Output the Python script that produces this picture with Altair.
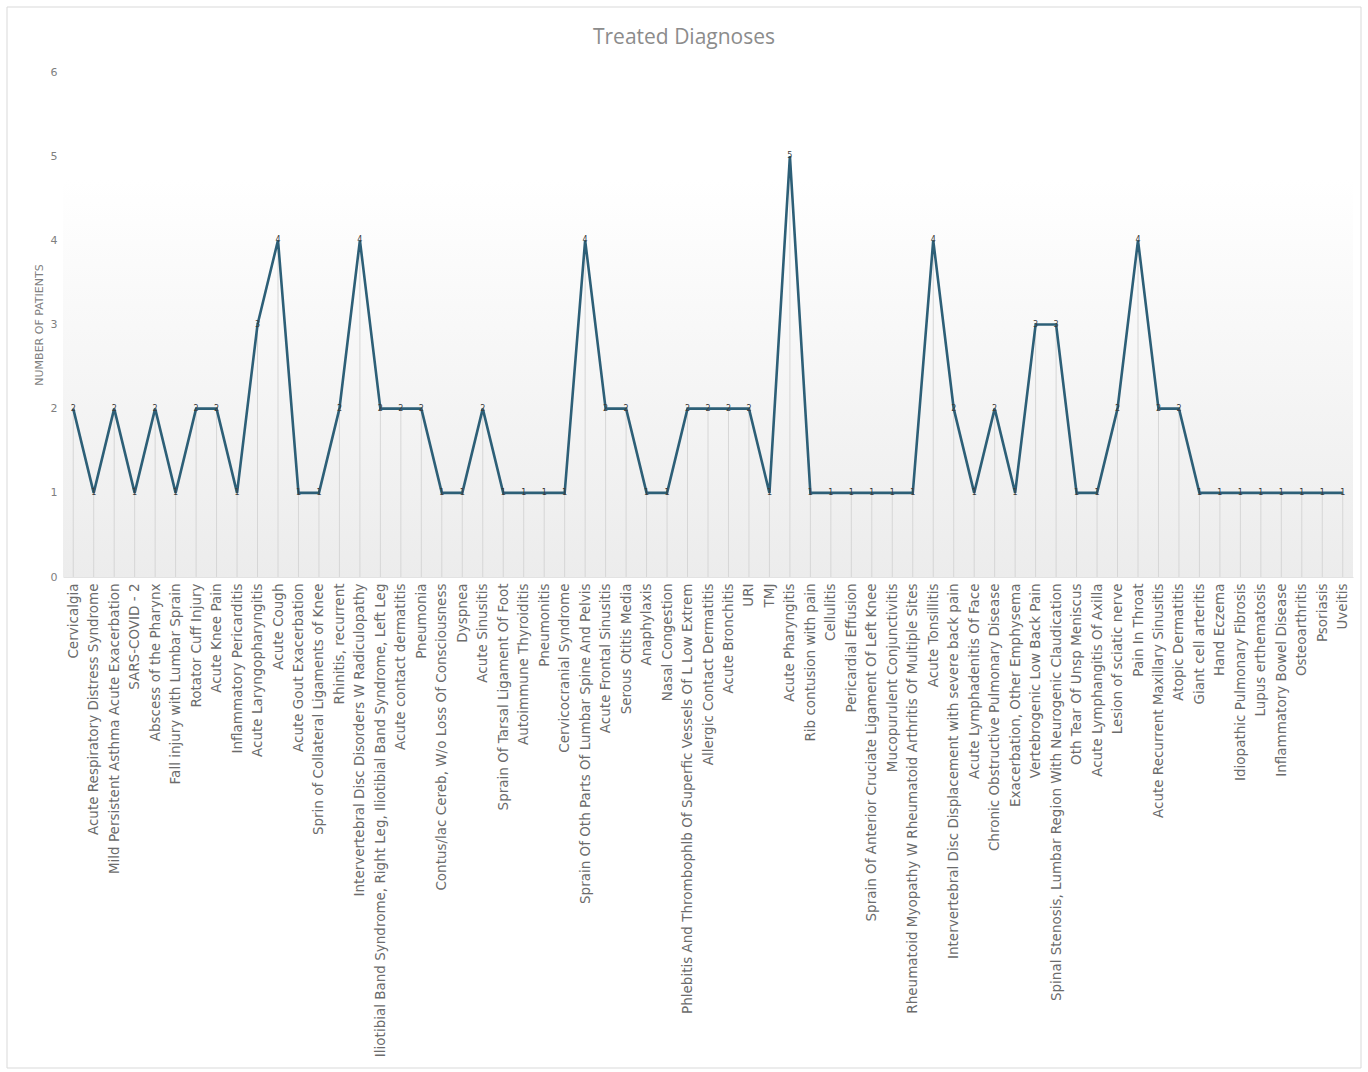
import altair as alt
import pandas as pd

diagnoses = [
    "Cervicalgia",
    "Acute Respiratory Distress Syndrome",
    "Mild Persistent Asthma Acute Exacerbation",
    "SARS-COVID - 2",
    "Abscess of the Pharynx",
    "Fall injury with Lumbar Sprain",
    "Rotator Cuff Injury",
    "Acute Knee Pain",
    "Inflammatory Pericarditis",
    "Acute Laryngopharyngitis",
    "Acute Cough",
    "Acute Gout Exacerbation",
    "Sprin of Collateral Ligaments of Knee",
    "Rhinitis, recurrent",
    "Intervertebral Disc Disorders W Radiculopathy",
    "Iliotibial Band Syndrome, Right Leg, Iliotibial Band Syndrome, Left Leg",
    "Acute contact dermatitis",
    "Pneumonia",
    "Contus/lac Cereb, W/o Loss Of Consciousness",
    "Dyspnea",
    "Acute Sinusitis",
    "Sprain Of Tarsal Ligament Of Foot",
    "Autoimmune Thyroiditis",
    "Pneumonitis",
    "Cervicocranial Syndrome",
    "Sprain Of Oth Parts Of Lumbar Spine And Pelvis",
    "Acute Frontal Sinusitis",
    "Serous Otitis Media",
    "Anaphylaxis",
    "Nasal Congestion",
    "Phlebitis And Thrombophlb Of Superfic Vessels Of L Low Extrem",
    "Allergic Contact Dermatitis",
    "Acute Bronchitis",
    "URI",
    "TMJ",
    "Acute Pharyngitis",
    "Rib contusion with pain",
    "Cellulitis",
    "Pericardial Effusion",
    "Sprain Of Anterior Cruciate Ligament Of Left Knee",
    "Mucopurulent Conjunctivitis",
    "Rheumatoid Myopathy W Rheumatoid Arthritis Of Multiple Sites",
    "Acute Tonsillitis",
    "Intervertebral Disc Displacement with severe back pain",
    "Acute Lymphadenitis Of Face",
    "Chronic Obstructive Pulmonary Disease",
    "Exacerbation, Other Emphysema",
    "Vertebrogenic Low Back Pain",
    "Spinal Stenosis, Lumbar Region With Neurogenic Claudication",
    "Oth Tear Of Unsp Meniscus",
    "Acute Lymphangitis Of Axilla",
    "Lesion of sciatic nerve",
    "Pain In Throat",
    "Acute Recurrent Maxillary Sinusitis",
    "Atopic Dermatitis",
    "Giant cell arteritis",
    "Hand Eczema",
    "Idiopathic Pulmonary Fibrosis",
    "Lupus erthematosis",
    "Inflammatory Bowel Disease",
    "Osteoarthritis",
    "Psoriasis",
    "Uveitis",
]

patients = [
    2, 1, 2, 1, 2, 1, 2, 2, 1, 3,
    4, 1, 1, 2, 4, 2, 2, 2, 1, 1,
    2, 1, 1, 1, 1, 4, 2, 2, 1, 1,
    2, 2, 2, 2, 1, 5, 1, 1, 1, 1,
    1, 1, 4, 2, 1, 2, 1, 3, 3, 1,
    1, 2, 4, 2, 2, 1, 1, 1, 1, 1,
    1, 1, 1,
]

y_ticks = [0, 1, 2, 3, 4, 5, 6]

df = pd.DataFrame({"diagnosis": diagnoses, "patients": patients})

W, H = 1290, 505
FONT = "DejaVu Sans"

x_enc = alt.X(
    "diagnosis:N",
    sort=diagnoses,
    scale=alt.Scale(type="point", padding=0.5),
    axis=alt.Axis(
        title=None,
        labelAngle=-90,
        labelFontSize=13.5,
        labelColor="#6b6b6b",
        labelFont=FONT,
        labelLimit=0,
        labelPadding=6,
        labelOverlap=False,
        domain=True,
        domainColor="#e3e3e3",
        ticks=False,
        grid=False,
    ),
)

y_enc = alt.Y(
    "patients:Q",
    scale=alt.Scale(domain=[0, 6], nice=False),
    axis=alt.Axis(
        values=y_ticks,
        format="d",
        title="NUMBER OF PATIENTS",
        titleFontSize=11,
        titleFont=FONT,
        titleFontWeight="normal",
        titleColor="#7f7f7f",
        titlePadding=6,
        labelFontSize=11,
        labelFont=FONT,
        labelColor="#7f7f7f",
        labelPadding=6,
        domain=False,
        ticks=False,
        grid=False,
    ),
)

base = alt.Chart(df)

gradient = alt.Gradient(
    gradient="linear",
    stops=[
        alt.GradientStop(color="#ffffff", offset=0),
        alt.GradientStop(color="#ececec", offset=1),
    ],
    x1=0, x2=0, y1=0, y2=1,
)

band = alt.Chart(pd.DataFrame({"a": [0]})).mark_rect(fill=gradient).encode(
    x=alt.value(0), x2=alt.value(W), y=alt.datum(4.72), y2=alt.datum(0)
)

frame = alt.Chart(pd.DataFrame({"a": [0]})).mark_rect(
    fill="transparent", stroke="#d9d9d9", strokeWidth=1
).encode(
    x=alt.value(-56), x2=alt.value(1298), y=alt.value(-65), y2=alt.value(996)
)

drops = base.mark_rule(color="#d6d6d6", strokeWidth=1).encode(
    x=x_enc, y=y_enc, y2=alt.datum(0)
)

line = base.mark_line(color="#2d5f77", strokeWidth=2.6).encode(x=x_enc, y=y_enc)

labels = base.mark_text(
    fontSize=8, color="#3a3a3a", font=FONT, baseline="middle", align="center"
).encode(x=x_enc, y=y_enc, text="patients:Q")

chart = (
    alt.layer(band, frame, drops, line, labels)
    .properties(
        width=W,
        height=H,
        view=alt.ViewBackground(stroke="transparent", strokeOpacity=0, strokeWidth=0),
        title=alt.TitleParams(
            "Treated Diagnoses",
            fontSize=21,
            font="Open Sans",
            fontWeight="normal",
            color="#8c8c8c",
            anchor="middle",
            offset=-41,
            dx=-24,
        ),
        autosize=alt.AutoSizeParams(type="none"),
        padding={"left": 63, "top": 72, "right": 15, "bottom": 495},
    )
    .configure_view(stroke="transparent", strokeOpacity=0, strokeWidth=0)
    .configure(background="#ffffff")
)

chart.save("out.html", embed_options={"renderer": "svg", "actions": False})
